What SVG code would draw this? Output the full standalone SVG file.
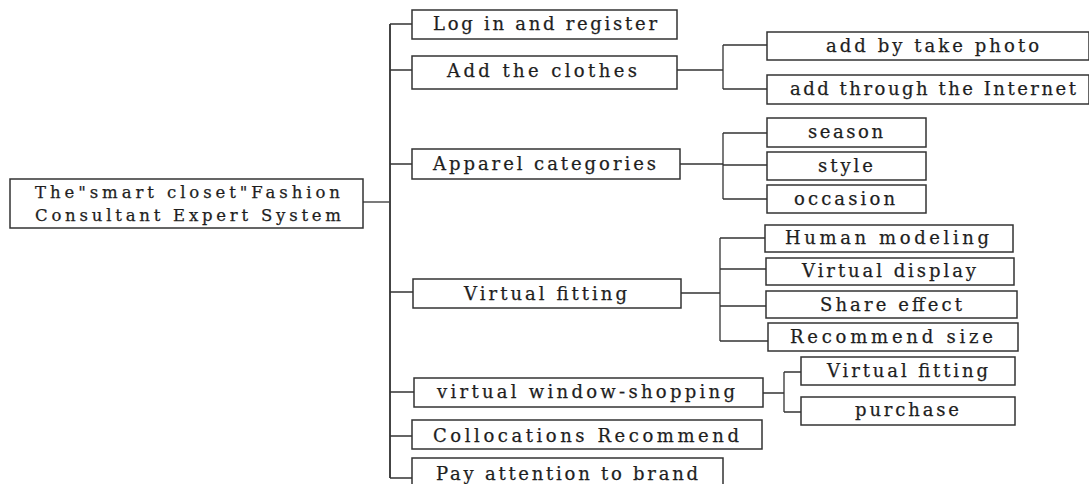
<svg xmlns="http://www.w3.org/2000/svg" width="1089" height="484" viewBox="0 0 1089 484">
<style>
.b{fill:#fff;stroke:#333;stroke-width:1.5}
.t{font-family:"DejaVu Serif","Liberation Serif",serif;font-size:18px;fill:#1e1e1e;stroke:#1e1e1e;stroke-width:0.25;text-anchor:start}
.r{font-size:16.5px}
.c{fill:none;stroke:#333;stroke-width:1.3}
.m{fill:none;stroke:#444;stroke-width:2}
</style>
<rect width="1089" height="484" fill="#fff"/>
<g id="connectors">
<path class="c" d="M363 202H390"/>
<path class="m" d="M390 24V478"/>
<path class="c" d="M390 24H412M390 70H412M390 164H412M390 292H413M390 392H414M390 436H412M390 478H412"/>
<path class="c" d="M677 70H723M723 45V89M723 45H767M723 89H767"/>
<path class="c" d="M680 164H723M723 133V199M723 133H767M723 165H767M723 199H767"/>
<path class="c" d="M681 293H720M720 238V341M720 238H766M720 269H766M720 306H766M720 341H768"/>
<path class="c" d="M763 393H784M784 372V412M784 372H801M784 412H801"/>
</g>
<g id="root">
<rect class="b" x="10" y="179" width="353" height="49"/>
<text class="t r" x="35" y="198" textLength="305" lengthAdjust="spacing">The"smart closet"Fashion</text>
<text class="t r" x="35" y="221" textLength="306" lengthAdjust="spacing">Consultant Expert System</text>
</g>
<g id="login">
<rect class="b" x="412" y="10" width="265" height="29"/>
<text class="t" x="433" y="30" textLength="224" lengthAdjust="spacing">Log in and register</text>
</g>
<g id="addclothes">
<rect class="b" x="412" y="56" width="265" height="33"/>
<text class="t" x="447" y="77" textLength="190" lengthAdjust="spacing">Add the clothes</text>
</g>
<g id="apparel">
<rect class="b" x="412" y="149" width="268" height="30"/>
<text class="t" x="433" y="170" textLength="223" lengthAdjust="spacing">Apparel categories</text>
</g>
<g id="vfitting">
<rect class="b" x="413" y="279" width="268" height="29"/>
<text class="t" x="464" y="300" textLength="163" lengthAdjust="spacing">Virtual fitting</text>
</g>
<g id="window">
<rect class="b" x="414" y="378" width="349" height="29"/>
<text class="t" x="437" y="398" textLength="298" lengthAdjust="spacing">virtual window-shopping</text>
</g>
<g id="colloc">
<rect class="b" x="412" y="420" width="350" height="29"/>
<text class="t" x="433" y="442" textLength="306" lengthAdjust="spacing">Collocations Recommend</text>
</g>
<g id="brand">
<rect class="b" x="412" y="458" width="311" height="30"/>
<text class="t" x="436" y="480" textLength="262" lengthAdjust="spacing">Pay attention to brand</text>
</g>
<g id="photo">
<rect class="b" x="767" y="32" width="322" height="28"/>
<text class="t" x="826" y="52" textLength="213" lengthAdjust="spacing">add by take photo</text>
</g>
<g id="internet">
<rect class="b" x="767" y="75" width="322" height="29"/>
<text class="t" x="790" y="95" textLength="286" lengthAdjust="spacing">add through the Internet</text>
</g>
<g id="season">
<rect class="b" x="767" y="118" width="159" height="29"/>
<text class="t" x="808" y="138" textLength="75" lengthAdjust="spacing">season</text>
</g>
<g id="style">
<rect class="b" x="767" y="152" width="159" height="28"/>
<text class="t" x="818" y="172" textLength="55" lengthAdjust="spacing">style</text>
</g>
<g id="occasion">
<rect class="b" x="767" y="185" width="159" height="28"/>
<text class="t" x="794" y="205" textLength="101" lengthAdjust="spacing">occasion</text>
</g>
<g id="human">
<rect class="b" x="765" y="225" width="248" height="27"/>
<text class="t" x="785" y="244" textLength="204" lengthAdjust="spacing">Human modeling</text>
</g>
<g id="display">
<rect class="b" x="766" y="258" width="248" height="27"/>
<text class="t" x="802" y="277" textLength="174" lengthAdjust="spacing">Virtual display</text>
</g>
<g id="share">
<rect class="b" x="766" y="291" width="251" height="27"/>
<text class="t" x="820" y="311" textLength="142" lengthAdjust="spacing">Share effect</text>
</g>
<g id="size">
<rect class="b" x="768" y="323" width="250" height="28"/>
<text class="t" x="790" y="343" textLength="203" lengthAdjust="spacing">Recommend size</text>
</g>
<g id="vfitting2">
<rect class="b" x="801" y="357" width="214" height="28"/>
<text class="t" x="827" y="377" textLength="161" lengthAdjust="spacing">Virtual fitting</text>
</g>
<g id="purchase">
<rect class="b" x="801" y="397" width="214" height="28"/>
<text class="t" x="855" y="416" textLength="104" lengthAdjust="spacing">purchase</text>
</g>
</svg>
